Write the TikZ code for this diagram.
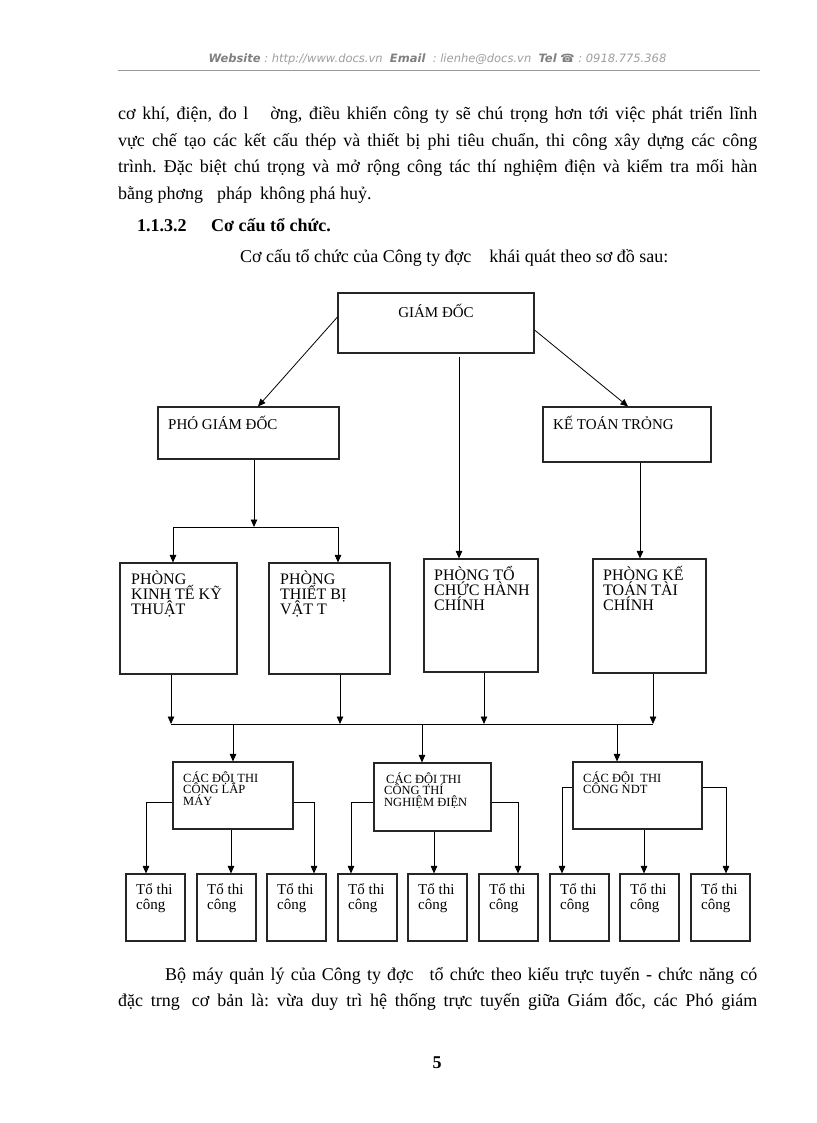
\documentclass[tikz,border=0pt]{standalone}
\usepackage{fontspec}
\setmainfont{Liberation Serif}
\newfontfamily\hdrfont{DejaVu Sans}
\usetikzlibrary{arrows.meta,calc}
\newcommand\mylsl{\lineskiplimit=-20pt\relax}
\frenchspacing
\begin{document}
\begin{tikzpicture}[x=1pt,y=-1pt,
  box/.style={draw=black!85,line width=1.1pt,inner sep=0pt},
  conn/.style={line width=0.8pt,black},
  arr/.style={conn,-{Triangle[width=6.5pt,length=7.5pt]}},
  body/.style={anchor=base west,inner sep=0pt,font={\fontsize{18}{26.7}\selectfont}},
  bodyb/.style={anchor=base west,inner sep=0pt,font={\fontsize{18}{26.7}\selectfont\bfseries}},
  lbig/.style={anchor=base west,inner sep=0pt,font={\fontsize{15}{15}\selectfont}},
  mlA/.style={anchor=north west,inner sep=0pt,align=left,font={\fontsize{16}{15}\selectfont\mylsl}},
  mlB/.style={anchor=north west,inner sep=0pt,align=left,font={\fontsize{12.5}{11.7}\selectfont\mylsl}},
  mlC/.style={anchor=north west,inner sep=0pt,align=left,font={\fontsize{15}{15}\selectfont\mylsl}}]
\useasboundingbox (0,0) rectangle (816,1123);
\fill[white] (0,0) rectangle (816,1123);

% header
\node[anchor=base,inner sep=0pt,font={\hdrfont\fontsize{11.5}{13}\selectfont\itshape},text=black!38] (hdr) at (437.5,63)
 {\textcolor{black!50}{\textbf{Website}} : http://www.docs.vn\ \ \textcolor{black!50}{\textbf{Email}}\ \ : lienhe@docs.vn\ \ \textcolor{black!50}{\textbf{Tel}\ \textbf{☎}} : 0918.775.368};
\draw[black!40,line width=1.3pt] (118,70.5) -- (760,70.5);

% paragraph
\node[body] (p1) at (118,120) {\makebox[639pt][s]{cơ khí, điện, đo l\hspace{22pt}ờng, điều khiển công ty sẽ chú trọng hơn tới việc phát triển lĩnh}};
\node[body] (p2) at (118,147) {\makebox[639pt][s]{vực chế tạo các kết cấu thép và thiết bị phi tiêu chuẩn, thi công xây dựng các công}};
\node[body] (p3) at (118,173) {\makebox[639pt][s]{trình. Đặc biệt chú trọng và mở rộng công tác thí nghiệm điện và kiểm tra mối hàn}};
\node[body] (p4) at (118,200) {bằng phơng\hspace{14pt}pháp\hspace{8pt}không phá huỷ.};

\node[bodyb] (h1) at (137,232) {1.1.3.2};
\node[bodyb] (h2) at (211,232) {Cơ cấu tổ chức.};
\node[body] (intro) at (240,262) {Cơ cấu tổ chức của Công ty đợc\hspace{18pt}khái quát theo sơ đồ sau:};

% level 1
\node[box,minimum width=196pt,minimum height=60pt] (gd) at (436,323) {};
\node[lbig,anchor=base] (gdt) at (436,317) {GIÁM ĐỐC};
\node[box,minimum width=181pt,minimum height=52pt] (pgd) at (248.5,433) {};
\node[lbig] (pgdt) at (168,429) {PHÓ GIÁM ĐỐC};
\node[box,minimum width=168pt,minimum height=55pt] (ktt) at (627,434.5) {};
\node[lbig] (kttt) at (553,429) {KẾ TOÁN TRỎNG};

% level 2
\node[box,minimum width=117pt,minimum height=111pt] (pkt) at (178.5,618.5) {};
\node[mlA] (pktt) at (131,568) {\rule{0pt}{1em}PHÒNG\\KINH TẾ KỸ\\THUẬT};
\node[box,minimum width=121pt,minimum height=111pt] (ptb) at (329.5,618.5) {};
\node[mlA] (ptbt) at (280,568) {\rule{0pt}{1em}PHÒNG\\THIẾT BỊ\\VẬT T};
\node[box,minimum width=114pt,minimum height=113pt] (ptc) at (481,615.5) {};
\node[mlA] (ptct) at (434,564) {\rule{0pt}{1em}PHÒNG TỔ\\CHỨC HÀNH\\CHÍNH};
\node[box,minimum width=113pt,minimum height=114pt] (pktc) at (649.5,616) {};
\node[mlA] (pktct) at (603,564) {\rule{0pt}{1em}PHÒNG KẾ\\TOÁN TÀI\\CHÍNH};

% level 3
\node[box,minimum width=120pt,minimum height=67pt] (cd1) at (233,795.5) {};
\node[mlB] (cd1t) at (183,769.5) {\rule{0pt}{1em}CÁC ĐỘI THI\\CÔNG LẮP\\MÁY};
\node[box,minimum width=117pt,minimum height=68pt] (cd2) at (432.5,797) {};
\node[mlB] (cd2t) at (384,770.5) {\rule{0pt}{1em}\hspace{2pt}CÁC ĐỘI THI\\CÔNG THÍ\\NGHIỆM ĐIỆN};
\node[box,minimum width=129pt,minimum height=67pt] (cd3) at (637.5,795.5) {};
\node[mlB] (cd3t) at (583,769.5) {\rule{0pt}{1em}CÁC ĐỘI\ \ THI\\CÔNG NDT};

% level 4
\foreach \i/\x in {1/126,2/197,3/267,4/338,5/408,6/479,7/550,8/620,9/691}{
  \node[box,minimum width=59pt,minimum height=67pt] (t\i) at (\x+29.5,907.5) {};
  \node[mlC] (tt\i) at (\x+10,879) {\rule{0pt}{1em}Tổ thi\\công};
}

% connectors level 1
\draw[arr] ([yshift=6pt]gd.west) -- ([xshift=9.5pt]pgd.north);
\draw[arr] ([yshift=-7pt]gd.east) -- ([xshift=1pt]ktt.north);
\draw[arr] ([xshift=23pt,yshift=-3pt]gd.south) -- ([xshift=23pt]gd.south |- ptc.north);
\draw[arr] ([xshift=13pt]ktt.south) -- ([xshift=13pt]ktt.south |- pktc.north);

\coordinate (j1) at (254,527);
\coordinate (j1l) at (173,527);
\coordinate (j1r) at (338,527);
\draw[arr] (pgd.south -| j1) -- (j1);
\draw[conn] (j1l) -- (j1r);
\draw[arr] (j1l) -- (j1l |- pkt.north);
\draw[arr] (j1r) -- (j1r |- ptb.north);

% bus 2
\coordinate (j2l) at (171,724);
\coordinate (j2b) at (340,724);
\coordinate (j2c) at (484,724);
\coordinate (j2r) at (653,724);
\draw[conn] (j2l) -- (j2r);
\draw[arr] (pkt.south -| j2l) -- (j2l);
\draw[arr] (ptb.south -| j2b) -- (j2b);
\draw[arr] (ptc.south -| j2c) -- (j2c);
\draw[arr] (pktc.south -| j2r) -- (j2r);
\draw[arr] (cd1.north |- j2l) -- (cd1.north);
\draw[arr] ([xshift=-10.5pt]cd2.north |- j2l) -- ([xshift=-10.5pt]cd2.north);
\draw[arr] ([xshift=-20.5pt]cd3.north |- j2l) -- ([xshift=-20.5pt]cd3.north);

% level 3 -> 4
\draw[arr] ([yshift=-6.5pt]cd1.west) -| ([xshift=-9.5pt]t1.north);
\draw[arr] ([xshift=-2pt]cd1.south) -- ([xshift=-2pt]cd1.south |- t2.north);
\draw[arr] ([yshift=-6.5pt]cd1.east) -| ([xshift=17.5pt]t3.north);
\draw[arr] ([yshift=-5pt]cd2.west) -| ([xshift=-16.5pt]t4.north);
\draw[arr] ([xshift=1.5pt]cd2.south) -- ([xshift=1.5pt]cd2.south |- t5.north);
\draw[arr] ([yshift=-5pt]cd2.east) -| ([xshift=9.5pt]t6.north);
\draw[arr] ([yshift=8.5pt]cd3.west) -| ([xshift=-17.5pt]t7.north);
\draw[arr] ([xshift=6.5pt]cd3.south) -- ([xshift=6.5pt]cd3.south |- t8.north);
\draw[arr] ([yshift=8.5pt]cd3.east) -| ([xshift=5.5pt]t9.north);

% bottom text
\node[body] (q1) at (165,980) {\makebox[592pt][s]{Bộ máy quản lý của Công ty đợc\hspace{16pt}tổ chức theo kiểu trực tuyến - chức năng có}};
\node[body] (q2) at (118,1006) {\makebox[639pt][s]{đặc trng\hspace{12pt}cơ bản là: vừa duy trì hệ thống trực tuyến giữa Giám đốc, các Phó giám}};
\node[bodyb,anchor=base] (pg) at (437,1068) {5};
\end{tikzpicture}
\end{document}
